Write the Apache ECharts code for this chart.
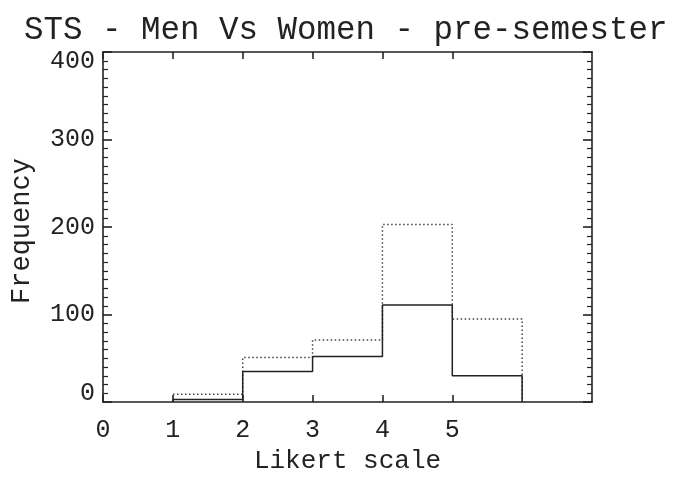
<!DOCTYPE html>
<html>
<head>
<meta charset="utf-8">
<script src="https://cdn.jsdelivr.net/npm/echarts@6/dist/echarts.min.js"></script>
<style>html,body{margin:0;padding:0;background:#fff}#c{width:675px;height:479px}</style>
</head>
<body>
<div id="c"></div>
<script>
// Bin edges and frequencies (Likert scale 1..5)
var binEdges = [1, 2, 3, 4, 5, 6];
var menValues = [3, 35, 52, 111, 30];
var womenValues = [9, 51, 71, 203, 95];
var xTickValues = [0, 1, 2, 3, 4, 5];
var yTickValues = [0, 100, 200, 300, 400];

function stepPoints(edges, vals) {
  var pts = [[edges[0], 0]];
  for (var i = 0; i < vals.length; i++) pts.push([edges[i + 1], vals[i]]);
  pts.push([edges[edges.length - 1], 0]);
  return pts;
}

var ink = '#222';
var mono = '"Liberation Mono", monospace';

var chart = echarts.init(document.getElementById('c'));
chart.setOption({
  animation: false,
  backgroundColor: '#fff',
  title: {
    text: 'STS - Men Vs Women - pre-semester',
    left: 19,
    top: 9,
    textStyle: { fontFamily: mono, fontSize: 32.5, fontWeight: 'normal', color: ink }
  },
  grid: { left: 103, right: 83, top: 52, bottom: 68, containLabel: false },
  xAxis: [{
    type: 'value', min: 0, max: 7, interval: 1, position: 'bottom',
    name: 'Likert scale', nameLocation: 'middle', nameGap: 45,
    nameTextStyle: { fontFamily: mono, fontSize: 26, color: ink },
    axisLine: { show: true, onZero: false, lineStyle: { color: ink, width: 1.6 } },
    axisTick: { show: true, inside: true, length: 7, customValues: xTickValues, lineStyle: { color: ink, width: 1.6 } },
    axisLabel: { customValues: xTickValues, margin: 16, fontFamily: mono, fontSize: 25, color: ink },
    splitLine: { show: false }
  }, {
    type: 'value', min: 0, max: 7, interval: 1, position: 'top',
    axisLine: { show: true, onZero: false, lineStyle: { color: ink, width: 1.6 } },
    axisTick: { show: true, inside: true, length: 7, customValues: xTickValues, lineStyle: { color: ink, width: 1.6 } },
    axisLabel: { show: false },
    splitLine: { show: false }
  }],
  yAxis: [{
    type: 'value', min: yTickValues[0], max: yTickValues[yTickValues.length - 1], interval: 100, position: 'left',
    name: 'Frequency', nameLocation: 'middle', nameGap: 68, nameRotate: 90,
    nameTextStyle: { fontFamily: mono, fontSize: 27, color: ink, padding: [0, 8, 0, 0] },
    axisLine: { show: true, onZero: false, lineStyle: { color: ink, width: 1.6 } },
    axisTick: { show: true, inside: true, length: 9, lineStyle: { color: ink, width: 1.6 } },
    minorTick: { show: true, splitNumber: 10, length: 5, lineStyle: { color: ink, width: 1.2 } },
    axisLabel: { margin: 8, fontFamily: mono, fontSize: 25, color: ink, lineHeight: 18,
      verticalAlignMinLabel: 'bottom', verticalAlignMaxLabel: 'top' },
    splitLine: { show: false }, minorSplitLine: { show: false }
  }, {
    type: 'value', min: yTickValues[0], max: yTickValues[yTickValues.length - 1], interval: 100, position: 'right',
    axisLine: { show: true, onZero: false, lineStyle: { color: ink, width: 1.6 } },
    axisTick: { show: true, inside: true, length: 9, lineStyle: { color: ink, width: 1.6 } },
    minorTick: { show: true, splitNumber: 10, length: 5, lineStyle: { color: ink, width: 1.2 } },
    axisLabel: { show: false },
    splitLine: { show: false }, minorSplitLine: { show: false }
  }],
  series: [{
    name: 'Women', type: 'line', step: 'start', showSymbol: false,
    data: stepPoints(binEdges, womenValues),
    lineStyle: { color: '#444', width: 1.5, type: [1.5, 2.5] },
    z: 2
  }, {
    name: 'Men', type: 'line', step: 'start', showSymbol: false,
    data: stepPoints(binEdges, menValues),
    lineStyle: { color: ink, width: 1.5, type: 'solid' },
    z: 3
  }]
});
</script>
</body>
</html>
